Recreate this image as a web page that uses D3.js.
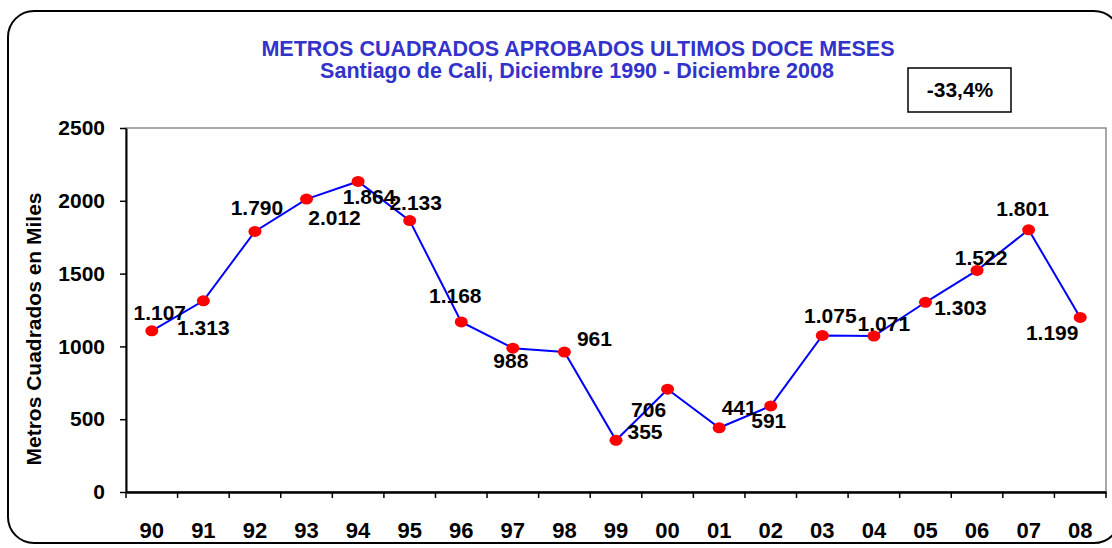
<!DOCTYPE html>
<html>
<head>
<meta charset="utf-8">
<script src="https://cdn.jsdelivr.net/npm/d3@7"></script>
<style>
body { margin: 0; background: white; }
svg text { font-family: Arial, "Liberation Sans", sans-serif; font-weight: bold; }
</style>
</head>
<body>
<script>
// data
var years = ["90", "91", "92", "93", "94", "95", "96", "97", "98", "99",
    "00", "01", "02", "03", "04", "05", "06", "07", "08"];
var metros = [1107, 1313, 1790, 2012, 2133, 1864, 1168, 988, 961, 355,
    706, 441, 591, 1075, 1071, 1303, 1522, 1801, 1199];
// labels as printed on the chart (94 and 95 come swapped there)
var labels = ["1.107", "1.313", "1.790", "2.012", "1.864", "2.133", "1.168", "988", "961", "355",
    "706", "441", "591", "1.075", "1.071", "1.303", "1.522", "1.801", "1.199"];
var yTicks = [0, 500, 1000, 1500, 2000, 2500];
var title = "METROS CUADRADOS APROBADOS ULTIMOS DOCE MESES";
var subtitle = "Santiago de Cali, Diciembre 1990 - Diciembre 2008";
var variation = "-33,4%";

// where each label sits, relative to its point
var labelOffsets = [[8, -11], [0, 34], [2, -16], [28, 26], [11, 23], [6, -11], [-6, -19],
    [-2, 20], [30, -6], [29, -1], [-19, 28], [20, -13], [-2, 22], [8, -12], [10, -5],
    [35, 13], [4, -5], [-6, -14], [-28, 23]];

window.onload = function() {
    var width = 1112;
    var height = 548;
    var plot = {left: 126, right: 1106, top: 128, bottom: 492};

    var svg = d3.select("body")
        .append("svg")
        .attr("width", width)
        .attr("height", height)
        .style("display", "block");

    // rounded frame round everything
    svg.append("rect")
        .attr("x", 8)
        .attr("y", 11)
        .attr("width", 1112)
        .attr("height", 532)
        .attr("rx", 26)
        .style("fill", "white")
        .style("stroke", "black")
        .style("stroke-width", 2);

    // titles
    svg.append("text")
        .attr("x", 578)
        .attr("y", 56)
        .attr("text-anchor", "middle")
        .style("font-size", "21.5px")
        .style("fill", "#3333cc")
        .text(title);
    svg.append("text")
        .attr("x", 577)
        .attr("y", 78)
        .attr("text-anchor", "middle")
        .style("font-size", "21.5px")
        .style("fill", "#3333cc")
        .text(subtitle);

    // box with the yearly variation
    svg.append("rect")
        .attr("x", 908)
        .attr("y", 68)
        .attr("width", 103)
        .attr("height", 44)
        .style("fill", "white")
        .style("stroke", "black")
        .style("stroke-width", 1.5);
    svg.append("text")
        .attr("x", 960)
        .attr("y", 97)
        .attr("text-anchor", "middle")
        .style("font-size", "21px")
        .text(variation);

    // scales
    var xScale = d3.scaleBand()
        .domain(years)
        .range([plot.left, plot.right]);
    var yScale = d3.scaleLinear()
        .domain([0, 2500])
        .range([plot.bottom, plot.top]);

    // grey plot border (top and right)
    svg.append("rect")
        .attr("x", plot.left)
        .attr("y", plot.top)
        .attr("width", plot.right - plot.left)
        .attr("height", plot.bottom - plot.top)
        .style("fill", "none")
        .style("stroke", "#8c8c8c")
        .style("stroke-width", 1.5);

    // y axis
    var yAxis = d3.axisLeft(yScale)
        .tickValues(yTicks)
        .tickFormat(d3.format("d"))
        .tickSize(6)
        .tickSizeOuter(0)
        .tickPadding(15);
    var gy = svg.append("g")
        .attr("transform", "translate(" + plot.left + ",0)")
        .call(yAxis);
    gy.select(".domain").style("stroke", "black").style("stroke-width", 2);
    gy.selectAll("line").style("stroke", "black").style("stroke-width", 1.5);
    gy.selectAll("text")
        .style("font-size", "21px")
        .style("font-family", "Arial, 'Liberation Sans', sans-serif")
        .style("fill", "black");

    // x axis, labels in the middle of the band
    var xAxis = d3.axisBottom(xScale)
        .tickSize(0)
        .tickSizeOuter(0)
        .tickPadding(30);
    var gx = svg.append("g")
        .attr("transform", "translate(0," + plot.bottom + ")")
        .call(xAxis);
    gx.select(".domain").style("stroke", "black").style("stroke-width", 2.5);
    gx.selectAll("text")
        .style("font-size", "22px")
        .style("font-family", "Arial, 'Liberation Sans', sans-serif")
        .style("fill", "black");

    // x tick marks sit between the categories
    var boundaries = years.map(function(d) { return xScale(d); });
    boundaries.push(xScale(years[years.length - 1]) + xScale.step());
    svg.selectAll(".xtick")
        .data(boundaries)
        .enter()
        .append("line")
        .attr("class", "xtick")
        .attr("x1", function(d) { return d; })
        .attr("x2", function(d) { return d; })
        .attr("y1", plot.bottom)
        .attr("y2", plot.bottom + 6)
        .style("stroke", "black")
        .style("stroke-width", 1.5);

    // y axis title
    svg.append("text")
        .attr("transform", "translate(41,329) rotate(-90)")
        .attr("text-anchor", "middle")
        .style("font-size", "21px")
        .text("Metros Cuadrados en Miles");

    var cx = function(d, i) { return xScale(years[i]) + xScale.bandwidth() / 2; };

    // the line
    var line = d3.line()
        .x(function(d, i) { return cx(d, i); })
        .y(function(d) { return yScale(d); });
    svg.append("path")
        .datum(metros)
        .attr("d", line)
        .style("fill", "none")
        .style("stroke", "#0000ff")
        .style("stroke-width", 2);

    // red points
    svg.selectAll(".point")
        .data(metros)
        .enter()
        .append("ellipse")
        .attr("class", "point")
        .attr("cx", cx)
        .attr("cy", function(d) { return yScale(d); })
        .attr("rx", 6.5)
        .attr("ry", 5.5)
        .style("fill", "#ff0000");

    // value labels
    svg.selectAll(".label")
        .data(metros)
        .enter()
        .append("text")
        .attr("class", "label")
        .attr("x", function(d, i) { return cx(d, i) + labelOffsets[i][0]; })
        .attr("y", function(d, i) { return yScale(d) + labelOffsets[i][1]; })
        .attr("text-anchor", "middle")
        .style("font-size", "21px")
        .text(function(d, i) { return labels[i]; });
};
</script>
</body>
</html>
